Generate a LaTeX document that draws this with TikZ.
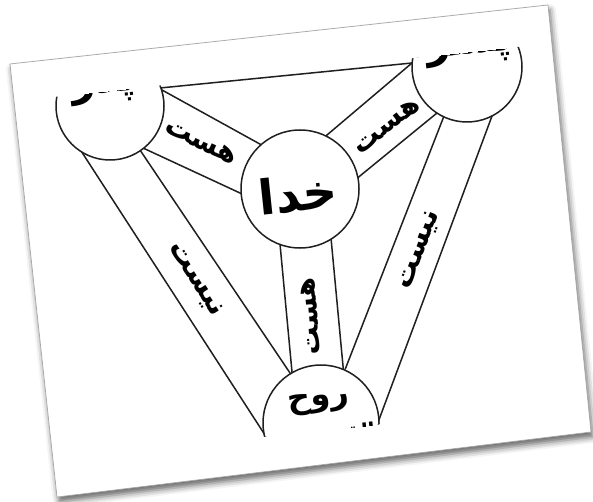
\documentclass[tikz,border=0pt]{standalone}
\usepackage{fontspec}
\usetikzlibrary{calc,shadows.blur}
\newfontfamily\arabicfont[Script=Arabic]{DejaVu Sans}
\TeXXeTstate=1
\newcommand\bandline[2]{\draw[ln] ($(#1)!-8pt!(#2)$) -- ($(#2)!-8pt!(#1)$);}
\begin{document}
\begin{tikzpicture}[x=1pt,y=-1pt,
  ln/.style={line width=1.5pt, draw=black!88},
  circ/.style={circle, draw=black!88, line width=1.5pt, fill=white, minimum size=#1, inner sep=0pt},
  lbl/.style={font=\arabicfont\bfseries\fontsize{#1}{#1}\selectfont, inner sep=0pt},
  big/.style={font=\arabicfont\bfseries\fontsize{#1}{#1}\selectfont, inner sep=0pt},
]
\useasboundingbox (0,0) rectangle (593,502);
% page
\coordinate (p1) at (10,64);
\coordinate (p2) at (548,5);
\coordinate (p3) at (591,432);
\coordinate (p4) at (57,497);
\fill[white, blur shadow={shadow xshift=2pt,shadow yshift=-5pt,shadow blur radius=6pt,shadow opacity=60}] (p1)--(p2)--(p3)--(p4)--cycle;
\draw[gray!70, line width=0.7pt] (p1)--(p2)--(p3)--(p4)--cycle;

% centres
\coordinate (F) at (110,106);
\coordinate (G) at (300,189);
\coordinate (S) at (467,67);
\coordinate (H) at (321,423);
% line end points
\coordinate (a1) at (160,88);  \coordinate (a2) at (412,63);
\coordinate (b1) at (162,90);  \coordinate (b2) at (258,143);
\coordinate (b3) at (143,148); \coordinate (b4) at (240,193);
\coordinate (c1) at (412,63);  \coordinate (c2) at (327,135);
\coordinate (c3) at (437,113); \coordinate (c4) at (355,180);
\coordinate (d1) at (85,157);  \coordinate (d2) at (265,435);
\coordinate (d3) at (142,153); \coordinate (d4) at (290,373);
\coordinate (e1) at (280,244); \coordinate (e2) at (292,372);
\coordinate (e3) at (331,238); \coordinate (e4) at (343,366);
\coordinate (f1) at (444,116); \coordinate (f2) at (348,362);
\coordinate (f3) at (492,116); \coordinate (f4) at (380,417);

\begin{scope}
\clip (30,99.6) -- (540,44.5) -- (540,407.1) -- (30,462.2) -- cycle;
\bandline{a1}{a2}
\bandline{b1}{b2}
\bandline{b3}{b4}
\bandline{c1}{c2}
\bandline{c3}{c4}
\bandline{d1}{d2}
\bandline{d3}{d4}
\bandline{e1}{e2}
\bandline{e3}{e4}
\bandline{f1}{f2}
\bandline{f3}{f4}
\node[circ=108pt] (father) at (F) {};
\node[circ=118pt] (god) at (G) {};
\node[circ=110pt] (son) at (S) {};
\node[circ=116pt] (spirit) at (H) {};
% circle texts
\node[big=42, fill=white, inner sep=3pt, rotate=6, anchor=base] (tF) at (104,93) {\beginR پدر\endR};
\node[big=42, fill=white, inner sep=3pt, rotate=6, anchor=base] (tS) at (470,54) {\beginR پسر\endR};
\node[big=48, rotate=6] (tG) at (298,194) {\beginR خدا\endR};
\node[big=32, rotate=6] (tH) at (319,403) {\beginR روح\endR};
\node[big=20, rotate=6, anchor=base east] (tH2) at (376,437) {\beginR القدس\endR};
% band labels
\node[lbl=28, rotate=-25] (l1) at (201,142) {\beginR هست\endR};
\node[lbl=28, rotate=38] (l2) at (387,126) {\beginR هست\endR};
\node[lbl=28, rotate=95] (l3) at (311,316) {\beginR هست\endR};
\node[lbl=29, rotate=-57] (l4) at (195,280) {\beginR نیست\endR};
\node[lbl=29, rotate=69] (l5) at (420,250) {\beginR نیست\endR};
\end{scope}
\end{tikzpicture}
\end{document}
